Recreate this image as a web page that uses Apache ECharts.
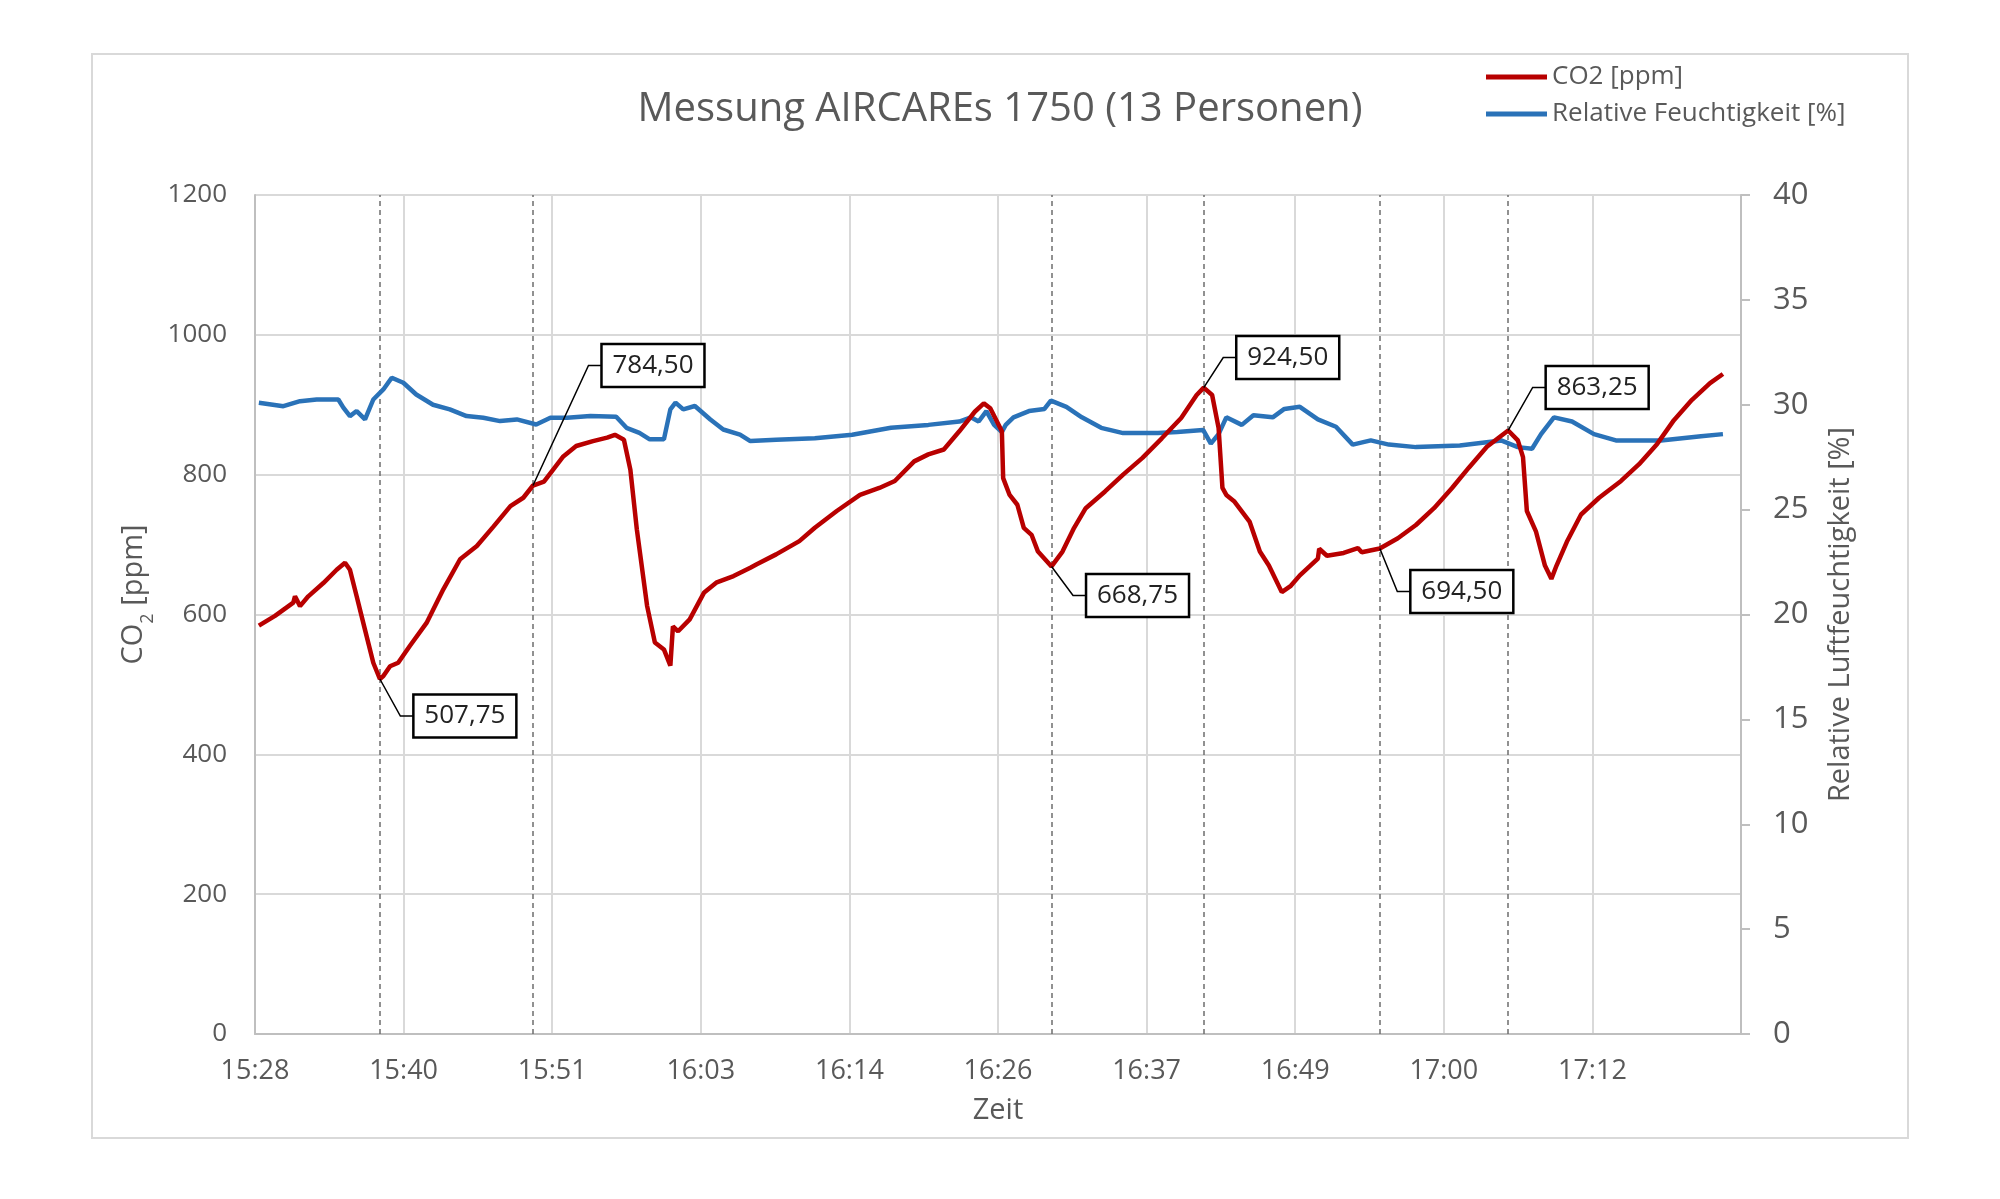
<!DOCTYPE html>
<html><head><meta charset="utf-8">
<script src="https://cdn.jsdelivr.net/npm/echarts@6/dist/echarts.min.js"></script>
<style>html,body{margin:0;padding:0;background:#fff}#c{width:2000px;height:1199px}</style>
</head><body><div id="c"></div>
<script>
// x values: minutes after axis start (15:28:48)
const tickLabels = ['15:28','15:40','15:51','16:03','16:14','16:26','16:37','16:49','17:00','17:12'];
const tickStep = 11.52;

const co2Time = [0.3,1.55,2.97,3.1,3.49,4.13,5.3,6.33,6.98,7.36,7.88,8.53,9.17,9.68,9.95,10.47,11.1,12.0,13.3,14.6,15.9,17.2,18.5,19.8,20.8,21.55,22.4,23.1,23.9,24.9,26.2,27.3,27.9,28.6,29.1,29.6,30.4,31.0,31.7,32.2,32.4,32.8,33.7,34.8,35.8,37.1,38.4,38.9,40.4,42.2,43.4,45.1,46.9,48.4,49.6,51.1,52.2,53.4,54.6,55.8,56.5,57.0,57.9,58.0,58.5,59.1,59.6,60.2,60.7,61.75,62.6,63.5,64.4,65.9,67.3,68.8,70.3,71.8,73.0,73.55,74.2,74.7,75.0,75.3,75.9,77.1,77.9,78.6,79.6,80.3,81.0,82.4,82.5,83.1,84.4,85.5,85.8,87.2,88.6,90.0,91.4,92.8,94.1,95.5,97.15,97.9,98.3,98.6,99.3,100.0,100.5,100.9,101.7,102.8,104.2,105.9,107.3,108.7,110.0,111.4,112.8,113.8];
const co2Values = [584,598,617,626,612,626,645,664,674,664,626,578,531,507.75,512,526,531,555,588,636,679,698,726,755,767,784.5,790,807,826,841,848,853,857,850,807,722,612,560,550,527,583,576,593,631,646,655,667,672,686,705,724,748,771,781,791,819,829,836,862,890,902,895,862,795,771,757,724,714,690,668.75,690,724,752,776,800,824,852,881,914,924.5,914,867,781,771,762,733,690,670,632,641,656,680,694,684,688,695,689,694.5,709,728,752,781,810,840,863.25,849,825,748,719,670,651,670,704,743,767,791,815,844,878,907,931,944];

const humTime = [0.3,2.2,3.49,4.78,6.46,6.85,7.36,7.88,8.53,9.17,9.95,10.6,11.5,12.5,13.8,15.1,16.4,17.7,19.0,20.3,21.8,22.9,24.2,26.0,28.0,28.8,29.8,30.6,31.7,32.2,32.6,33.2,34.1,35.3,36.3,37.6,38.4,40.4,43.4,46.3,49.3,52.2,54.6,55.5,56.1,56.7,57.3,57.9,58.2,58.8,60.0,61.2,61.7,62.9,64.1,65.6,67.3,70.0,71.5,73.5,74.1,74.7,75.3,76.5,77.4,78.9,79.8,81.0,82.4,83.8,85.1,86.5,87.9,90.0,93.4,96.6,97.9,99.0,99.7,100.7,102.1,103.8,105.5,109.0,112.1,113.8];
const humValues = [30.1,29.93,30.17,30.25,30.25,29.86,29.46,29.7,29.3,30.25,30.73,31.29,31.05,30.49,30.0,29.78,29.46,29.38,29.22,29.3,29.06,29.38,29.38,29.46,29.43,28.9,28.66,28.35,28.35,29.78,30.1,29.78,29.94,29.3,28.82,28.58,28.27,28.33,28.4,28.57,28.9,29.04,29.2,29.4,29.2,29.7,29.04,28.7,29.04,29.4,29.7,29.8,30.2,29.9,29.4,28.9,28.65,28.65,28.7,28.8,28.15,28.6,29.4,29.04,29.5,29.4,29.8,29.9,29.3,28.95,28.1,28.3,28.1,27.98,28.06,28.3,27.98,27.9,28.6,29.4,29.2,28.6,28.3,28.3,28.5,28.6];

const calloutTimes = [9.68,21.55,61.75,73.55,87.2,97.15];
const calloutValues = [507.75,784.50,668.75,924.50,694.50,863.25];
// box centre offsets from the point (pixels) - styling only
const calloutOffsets = [[85,37],[120,-120],[86,29],[84,-30],[82,43],[89,-43]];

const FONT = "'Open Sans','Noto Sans',sans-serif";
const GRAY = '#595959';
const RED = '#b80000';
const BLUE = '#2a72b8';
const fmt = v => v.toFixed(2).replace('.', ',');

const chart = echarts.init(document.getElementById('c'), null, {renderer:'canvas'});
chart.setOption({
  animation:false,
  backgroundColor:'#fff',
  textStyle:{fontFamily:FONT},
  graphic:[{type:'rect', z:-10, shape:{x:92,y:54,width:1816,height:1084}, style:{fill:'none', stroke:'#d9d9d9', lineWidth:2}}],
  title:{text:'Messung AIRCAREs 1750 (13 Personen)', left:'center', top:85,
    textStyle:{fontFamily:FONT, fontSize:40, fontWeight:'normal', color:GRAY}},
  legend:{orient:'vertical', left:1486, top:64, icon:'rect', itemWidth:61, itemHeight:5, itemGap:11, padding:0,
    data:['CO2 [ppm]','Relative Feuchtigkeit [%]'],
    textStyle:{fontFamily:FONT, fontSize:26, color:GRAY}},
  grid:{left:255, right:259, top:195, bottom:165},
  xAxis:{type:'value', min:0, max:tickStep*10, interval:tickStep,
    axisLine:{lineStyle:{color:'#bfbfbf', width:2}}, axisTick:{show:false},
    splitLine:{show:true, lineStyle:{color:'#d9d9d9', width:2}},
    axisLabel:{margin:24, fontSize:27, color:GRAY, fontFamily:FONT,
      formatter:v=>{const i=Math.round(v/tickStep); return tickLabels[i]||'';}},
    name:'Zeit', nameLocation:'middle', nameGap:62, nameTextStyle:{fontSize:29, color:GRAY, fontFamily:FONT}},
  yAxis:[
    {type:'value', min:0, max:1200, interval:200, position:'left',
     axisLine:{show:true, lineStyle:{color:'#bfbfbf', width:2}}, axisTick:{show:false},
     splitLine:{show:true, lineStyle:{color:'#d9d9d9', width:2}},
     axisLabel:{margin:28, fontSize:26, color:GRAY, fontFamily:FONT, formatter:v=>String(v)},
     name:'{a|CO}{s|2}{a| [ppm]}', nameLocation:'middle', nameRotate:90, nameGap:101,
     nameTextStyle:{color:GRAY, padding:[0,0,0,40], rich:{a:{fontSize:29, color:GRAY, fontFamily:FONT, lineHeight:34}, s:{fontSize:18, color:GRAY, fontFamily:FONT, lineHeight:34, verticalAlign:'bottom', padding:[0,0,-6,0]}}}},
    {type:'value', min:0, max:40, interval:5, position:'right',
     axisLine:{show:true, lineStyle:{color:'#bfbfbf', width:2}},
     axisTick:{show:true, length:9, lineStyle:{color:'#bfbfbf', width:2}},
     splitLine:{show:false},
     axisLabel:{margin:32, fontSize:31, color:GRAY, fontFamily:FONT},
     name:'Relative Luftfeuchtigkeit [%]', nameLocation:'middle', nameRotate:90, nameGap:85,
     nameTextStyle:{fontSize:29, color:GRAY, fontFamily:FONT}}
  ],
  series:[
    {name:'CO2 [ppm]', type:'line', yAxisIndex:0, symbol:'none', z:3,
     data:co2Time.map((t,i)=>[t,co2Values[i]]),
     lineStyle:{color:RED, width:4.5}, itemStyle:{color:RED},
     markLine:{symbol:['none','none'], silent:true, label:{show:false}, z:1,
       lineStyle:{color:'#6e6e6e', type:[5,4], width:1.5},
       data:calloutTimes.map(t=>({xAxis:t}))}},
    {name:'Relative Feuchtigkeit [%]', type:'line', yAxisIndex:1, symbol:'none', z:2,
     data:humTime.map((t,i)=>[t,humValues[i]]),
     lineStyle:{color:BLUE, width:4.5}, itemStyle:{color:BLUE}},
    {type:'custom', yAxisIndex:0, z:5, silent:true,
     data:calloutTimes.map((t,i)=>[t,calloutValues[i]]),
     renderItem:(params, api)=>{
       const i = params.dataIndex;
       const p = api.coord([api.value(0), api.value(1)]);
       const off = calloutOffsets[i];
       const w = 103, h = 43;
       const cx = p[0]+off[0], cy = p[1]+off[1];
       const bx = cx - w/2;
       return {type:'group', children:[
         {type:'polyline', shape:{points:[[p[0],p[1]],[bx-13,cy],[bx,cy]]}, style:{stroke:'#000', lineWidth:1.5, fill:null}},
         {type:'rect', shape:{x:bx, y:cy-h/2, width:w, height:h}, style:{fill:'#fff', stroke:'#000', lineWidth:2.5}},
         {type:'text', x:cx, y:cy, style:{text:fmt(calloutValues[i]), fill:'#222', fontSize:26, fontFamily:FONT, align:'center', verticalAlign:'middle'}}
       ]};
     }}
  ]
});
</script></body></html>
